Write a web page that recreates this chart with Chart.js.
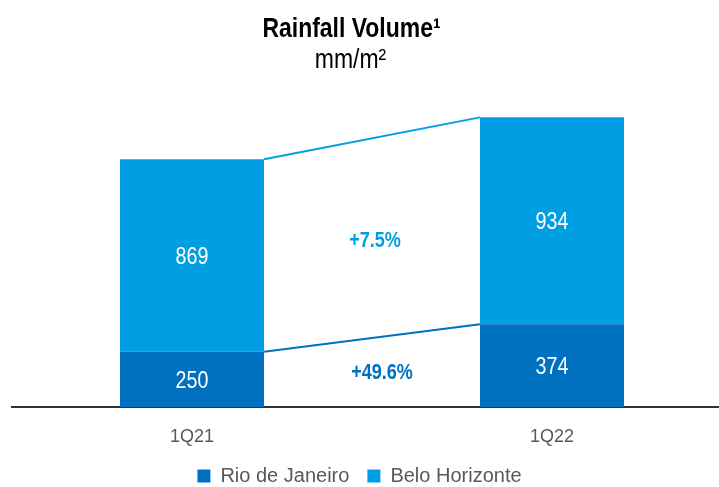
<!DOCTYPE html>
<html>
<head>
<meta charset="utf-8">
<title>Rainfall Volume</title>
<script src="https://cdn.jsdelivr.net/npm/chart.js@4.4.1/dist/chart.umd.min.js"></script>
<style>
  html, body { margin: 0; padding: 0; background: #fff; }
  #wrap { position: relative; width: 719px; height: 487px; overflow: hidden; }
  #chart { position: absolute; left: -13px; top: 0; }
</style>
</head>
<body>
<div id="wrap"><canvas id="chart" width="745" height="487"></canvas></div>
<script>
const quarters = ['1Q21', '1Q22'];
const rioValues = [250, 374];
const bhValues = [869, 934];
const seriesNames = ['Rio de Janeiro', 'Belo Horizonte'];
const growthLabels = ['+49.6%', '+7.5%'];
const titleText = 'Rainfall Volume¹';
const subtitleText = 'mm/m²';

const rioColor = '#0070C0';
const bhColor = '#009FE3';
const sans = "'Liberation Sans', Arial, sans-serif";

// the reference uses a condensed face, so squeeze our own text a bit
const drawNarrow = (ctx, text, x, y, font) => {
    ctx.save();
    ctx.font = font;
    ctx.translate(x, y);
    ctx.scale(0.82, 1);
    ctx.fillText(text, 0, 0);
    ctx.restore();
};

// title, bar values, connector lines and growth labels
const rainfallDecor = {
    id: 'rainfallDecor',
    afterDatasetsDraw(chart) {
        const ctx = chart.ctx;
        const rio = chart.getDatasetMeta(0).data;
        const bh = chart.getDatasetMeta(1).data;

        ctx.save();
        const connect = (bars, color) => {
            ctx.beginPath();
            ctx.strokeStyle = color;
            ctx.lineWidth = 2;
            ctx.moveTo(bars[0].x + bars[0].width / 2, bars[0].y);
            ctx.lineTo(bars[1].x - bars[1].width / 2, bars[1].y);
            ctx.stroke();
        };
        connect(bh, bhColor);
        connect(rio, rioColor);

        ctx.textAlign = 'center';
        ctx.textBaseline = 'middle';
        ctx.fillStyle = '#fff';
        [rio, bh].forEach((bars, d) => {
            bars.forEach((bar, i) => {
                const mid = (bar.y + bar.base) / 2;
                drawNarrow(ctx, String(chart.data.datasets[d].data[i]), bar.x, mid + 2, '24px ' + sans);
            });
        });

        [rio, bh].forEach((bars, d) => {
            const x = (bars[0].x + bars[1].x) / 2 + (d === 0 ? 10 : 3);
            const y = ((bars[0].y + bars[0].base) / 2 + (bars[1].y + bars[1].base) / 2) / 2 + (d === 0 ? 0 : 3);
            ctx.fillStyle = d === 0 ? rioColor : bhColor;
            drawNarrow(ctx, growthLabels[d], x, y, 'bold 22px ' + sans);
        });

        ctx.fillStyle = '#000';
        ctx.textBaseline = 'alphabetic';
        drawNarrow(ctx, titleText, chart.width / 2 - 8, 37, 'bold 28px ' + sans);
        drawNarrow(ctx, subtitleText, chart.width / 2 - 9, 68, '28px ' + sans);
        ctx.restore();
    }
};

document.addEventListener('DOMContentLoaded', () => {
    const ctx = document.getElementById('chart').getContext('2d');
    new Chart(ctx, {
        type: 'bar',
        data: {
            labels: quarters,
            datasets: [
                {
                    label: seriesNames[0],
                    data: rioValues,
                    backgroundColor: rioColor,
                    borderWidth: 0
                },
                {
                    label: seriesNames[1],
                    data: bhValues,
                    backgroundColor: bhColor,
                    borderWidth: 0
                }
            ]
        },
        options: {
            responsive: false,
            animation: false,
            categoryPercentage: 0.4,
            barPercentage: 1,
            layout: {
                padding: { top: 97, left: 0, right: 0, bottom: -9 }
            },
            scales: {
                x: {
                    stacked: true,
                    grid: { display: false },
                    border: { display: true, color: '#333', width: 2 },
                    ticks: {
                        color: '#595959',
                        padding: 13,
                        font: { family: sans, size: 18, lineHeight: 1 }
                    },
                    afterFit: (scale) => {
                        scale.height = 41;
                    }
                },
                y: {
                    stacked: true,
                    min: 0,
                    max: 1400,
                    grid: { display: false },
                    border: { display: false },
                    ticks: { display: false },
                    // empty strip on the left, keeps the legend centred on the page
                    afterFit: (scale) => {
                        scale.width = 25;
                    }
                }
            },
            plugins: {
                legend: {
                    position: 'bottom',
                    labels: {
                        boxWidth: 13,
                        boxHeight: 13,
                        padding: 18,
                        color: '#595959',
                        font: { family: sans, size: 20, lineHeight: 1 }
                    }
                },
                tooltip: { enabled: false }
            }
        },
        plugins: [rainfallDecor]
    });
});
</script>
</body>
</html>
